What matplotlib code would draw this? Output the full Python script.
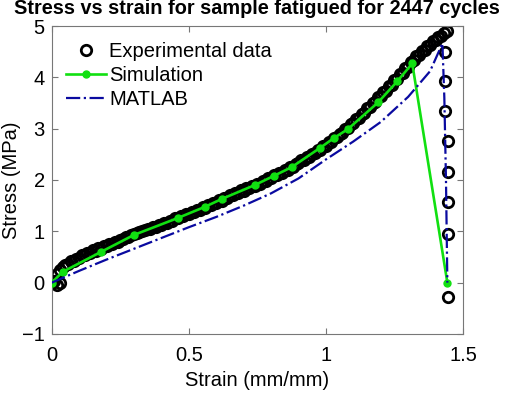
import matplotlib
matplotlib.use("Agg")
import matplotlib.pyplot as plt
import numpy as np

plt.rcParams['font.family'] = ['Liberation Sans', 'DejaVu Sans']

# Experimental data (dense loading curve)
exp_strain = [0.00, 0.01, 0.02, 0.03, 0.02, 0.03, 0.04, 0.05, 0.06, 0.07, 0.08, 0.09,
              0.10, 0.11, 0.12, 0.13, 0.14, 0.15, 0.16, 0.17, 0.18, 0.19,
              0.20, 0.21, 0.22, 0.23, 0.24, 0.25, 0.26, 0.27, 0.28, 0.29,
              0.30, 0.31, 0.32, 0.33, 0.34, 0.35, 0.36, 0.37, 0.38, 0.39,
              0.40, 0.41, 0.42, 0.43, 0.44, 0.45, 0.46, 0.47, 0.48, 0.49,
              0.50, 0.51, 0.52, 0.53, 0.54, 0.55, 0.56, 0.57, 0.58, 0.59,
              0.60, 0.61, 0.62, 0.63, 0.64, 0.65, 0.66, 0.67, 0.68, 0.69,
              0.70, 0.71, 0.72, 0.73, 0.74, 0.75, 0.76, 0.77, 0.78, 0.79,
              0.80, 0.81, 0.82, 0.83, 0.84, 0.85, 0.86, 0.87, 0.88, 0.89,
              0.90, 0.91, 0.92, 0.93, 0.94, 0.95, 0.96, 0.97, 0.98, 0.99,
              1.00, 1.01, 1.02, 1.03, 1.04, 1.05, 1.06, 1.07, 1.08, 1.09,
              1.10, 1.11, 1.12, 1.13, 1.14, 1.15, 1.16, 1.17, 1.18, 1.19,
              1.20, 1.21, 1.22, 1.23, 1.24, 1.25, 1.26, 1.27, 1.28, 1.29,
              1.30, 1.31, 1.32, 1.33, 1.34, 1.35, 1.36, 1.37, 1.38, 1.39,
              1.40, 1.41, 1.42, 1.43, 1.44]
exp_stress = [0.00, 0.04, -0.05, 0.00, 0.16, 0.24, 0.30, 0.35, 0.37, 0.42, 0.43, 0.47,
              0.48, 0.53, 0.53, 0.58, 0.58, 0.63, 0.62, 0.67, 0.66, 0.71,
              0.71, 0.75, 0.76, 0.79, 0.80, 0.84, 0.85, 0.88, 0.89, 0.93,
              0.94, 0.97, 0.98, 1.01, 1.02, 1.05, 1.05, 1.09, 1.08, 1.13,
              1.12, 1.17, 1.16, 1.21, 1.21, 1.26, 1.25, 1.30, 1.29, 1.34,
              1.33, 1.38, 1.37, 1.42, 1.42, 1.47, 1.46, 1.51, 1.51, 1.56,
              1.56, 1.61, 1.60, 1.65, 1.65, 1.71, 1.70, 1.75, 1.75, 1.80,
              1.79, 1.84, 1.84, 1.89, 1.88, 1.93, 1.93, 1.99, 1.98, 2.04,
              2.03, 2.09, 2.09, 2.14, 2.14, 2.20, 2.20, 2.26, 2.26, 2.32,
              2.33, 2.39, 2.39, 2.45, 2.45, 2.51, 2.52, 2.58, 2.59, 2.66,
              2.67, 2.74, 2.75, 2.82, 2.83, 2.90, 2.92, 2.99, 3.01, 3.09,
              3.11, 3.19, 3.21, 3.29, 3.31, 3.40, 3.42, 3.50, 3.52, 3.61,
              3.63, 3.72, 3.74, 3.83, 3.86, 3.94, 3.97, 4.06, 4.09, 4.18,
              4.21, 4.30, 4.33, 4.41, 4.43, 4.51, 4.53, 4.61, 4.63, 4.70,
              4.72, 4.78, 4.80, 4.87, 4.90]
# Experimental data (failure drop)
drop_strain = [1.435, 1.435, 1.435, 1.446, 1.445, 1.445, 1.446, 1.446]
drop_stress = [4.50, 3.92, 3.34, 2.76, 2.16, 1.57, 0.95, -0.27]

# Simulation
sim_strain = [0, 0.04, 0.18, 0.30, 0.46, 0.56, 0.62, 0.74, 0.81, 0.875,
              0.98, 1.03, 1.08, 1.19, 1.26, 1.315, 1.443]
sim_stress = [0, 0.21, 0.60, 0.93, 1.26, 1.48, 1.63, 1.90, 2.08, 2.25,
              2.63, 2.82, 2.99, 3.51, 3.92, 4.27, 0.0]

# MATLAB
mat_strain = [0, 0.1, 0.2, 0.3, 0.4, 0.5, 0.6, 0.7, 0.8, 0.9, 1.0, 1.1,
              1.2, 1.3, 1.38, 1.425, 1.432, 1.438, 1.443]
mat_stress = [0, 0.23, 0.45, 0.66, 0.87, 1.08, 1.28, 1.50, 1.74, 2.03, 2.40, 2.75,
              3.13, 3.62, 4.12, 4.66, 3.60, 2.00, 0.0]

xticks = [0, 0.5, 1, 1.5]
xticklabels = ['0', '0.5', '1', '1.5']
yticks = [-1, 0, 1, 2, 3, 4, 5]

fig = plt.figure(figsize=(5.05, 3.94), dpi=100)
ax = fig.add_axes([0.1024, 0.1523, 0.8144, 0.7817])

ex = np.concatenate([exp_strain, drop_strain])
ey = np.concatenate([exp_stress, drop_stress])
ax.plot(ex, ey, 'o', mfc='none', mec='black', ms=7.5, mew=2.0,
        label='Experimental data', zorder=2)
ax.plot(sim_strain, sim_stress, '-', color='#11e011', lw=1.9, marker='o',
        ms=5, mfc='#11e011', mec='#11e011', label='Simulation', zorder=3)
ax.plot(mat_strain, mat_stress, linestyle='-.', color='#0a0aa0', lw=1.6,
        label='MATLAB', zorder=4)

ax.set_xlim(0, 1.5)
ax.set_ylim(-1, 5)
ax.set_xticks(xticks)
ax.set_xticklabels(xticklabels)
ax.set_yticks(yticks)
ax.tick_params(direction='in', length=4, width=0.8, color='#777777',
               labelsize=14.5, top=True, right=True, pad=5)
ax.tick_params(axis='x', pad=9)
for s in ax.spines.values():
    s.set_color('#777777')
    s.set_linewidth(0.8)

ax.set_xlabel('Strain (mm/mm)', fontsize=14.5, labelpad=4)
ax.set_ylabel('Stress (MPa)', fontsize=14.5, labelpad=1)
ax.set_title('Stress vs strain for sample fatigued for 2447 cycles',
             fontsize=14.3, fontweight='bold', pad=8.5)

leg = ax.legend(loc='upper left', frameon=False, fontsize=14.5,
                handlelength=2.0, handletextpad=0.15, labelspacing=0.25,
                borderaxespad=0.3, bbox_to_anchor=(0.0, 0.995))

fig.savefig('out.png', dpi=100)
